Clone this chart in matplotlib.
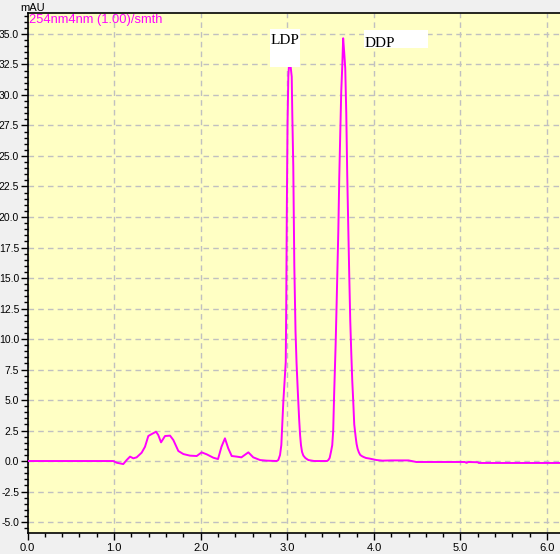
import matplotlib
matplotlib.use("Agg")
import matplotlib.pyplot as plt
from matplotlib.patches import Rectangle
from matplotlib.ticker import MultipleLocator, FormatStrFormatter

# retention time (min) and absorbance (mAU)
time_min = [0.0, 0.99, 1.03, 1.106, 1.145, 1.184, 1.222, 1.26, 1.318, 1.357,
            1.395, 1.434, 1.484, 1.51, 1.542, 1.588, 1.646, 1.684, 1.742, 1.80,
            1.876, 1.954, 2.011, 2.069, 2.146, 2.20, 2.24, 2.28, 2.318, 2.358,
            2.416, 2.47, 2.55, 2.607, 2.685, 2.762, 2.878,
            # LDP
            2.896, 2.916, 2.931, 2.939, 2.954, 2.982, 2.988, 2.995, 3.003, 3.012,
            3.024, 3.039, 3.051, 3.058, 3.069, 3.081, 3.095, 3.107, 3.122, 3.137,
            3.148, 3.158, 3.170, 3.185, 3.208, 3.243, 3.31,
            # DDP
            3.459, 3.474, 3.489, 3.504, 3.519, 3.530, 3.541, 3.558, 3.570, 3.589,
            3.600, 3.612, 3.623, 3.635, 3.645, 3.657, 3.669, 3.681, 3.692, 3.704,
            3.716, 3.727, 3.739, 3.750, 3.762, 3.773, 3.789, 3.800, 3.812, 3.827,
            3.842, 3.862, 3.881, 3.908, 3.95,
            # tail
            4.03, 4.10, 4.20, 4.40, 4.49, 5.05, 5.07, 5.09, 5.20, 5.21, 6.15]
mau = [0.0, 0.0, -0.14, -0.25, 0.08, 0.36, 0.22, 0.30, 0.68, 1.17,
       2.05, 2.21, 2.40, 2.13, 1.53, 2.05, 2.08, 1.72, 0.82, 0.57,
       0.44, 0.41, 0.71, 0.55, 0.27, 0.16, 1.17, 1.86, 1.04, 0.41,
       0.36, 0.30, 0.71, 0.30, 0.08, 0.03, 0.0,
       0.08, 0.49, 1.31, 2.54, 4.84, 8.11, 13.0, 21.0, 27.8, 31.5,
       33.0, 32.3, 31.5, 28.3, 24.2, 16.0, 10.6, 8.0, 5.6, 3.4,
       2.1, 1.3, 0.75, 0.45, 0.25, 0.08, 0.0,
       0.0, 0.08, 0.25, 0.74, 1.3, 2.5, 5.5, 9.5, 13.0, 18.8,
       23.2, 27.0, 30.3, 32.4, 34.65, 33.5, 32.2, 28.5, 23.5, 19.2,
       15.0, 11.5, 8.8, 6.6, 4.8, 3.0, 2.0, 1.4, 1.0, 0.7,
       0.5, 0.4, 0.33, 0.25, 0.2,
       0.08, 0.03, 0.05, 0.05, -0.08, -0.08, -0.15, -0.08, -0.1, -0.16, -0.16]

channel_label = "254nm4nm (1.00)/smth"
peak_names = ["LDP", "DDP"]

fig = plt.figure(figsize=(5.6, 5.54), dpi=100, facecolor="#f0f0f0")
ax = fig.add_axes([27.5 / 560, 1 - 533 / 554, 1 - 27.5 / 560, (533 - 13) / 554])
ax.set_facecolor("#ffffc4")

ax.plot(time_min, mau, color="#ff00ff", lw=1.4, zorder=3)

ax.set_xlim(0, 6.149)
ax.set_ylim(-5.9, 36.72)

ax.xaxis.set_major_locator(MultipleLocator(1.0))
ax.xaxis.set_minor_locator(MultipleLocator(0.2))
ax.yaxis.set_major_locator(MultipleLocator(2.5))
ax.yaxis.set_minor_locator(MultipleLocator(0.5))
ax.xaxis.set_major_formatter(FormatStrFormatter("%.1f"))
ax.yaxis.set_major_formatter(FormatStrFormatter("%.1f"))

ax.tick_params(which="major", direction="out", length=5, width=1)
ax.tick_params(which="minor", direction="out", length=3, width=1)
ax.tick_params(axis="x", which="major", labelsize=8, pad=2)
ax.tick_params(axis="y", which="major", labelsize=7.5, pad=1)
for lab in ax.get_xticklabels() + ax.get_yticklabels():
    lab.set_fontfamily("Liberation Sans")

ax.grid(True, which="major", color="#c0c0c0", ls=(0, (4, 3)), lw=1, zorder=1)

ax.spines["right"].set_visible(False)
for s in ["left", "bottom", "top"]:
    ax.spines[s].set_color("black")
    ax.spines[s].set_linewidth(1.2)

fig.text(20 / 560, 1 - 11 / 554, "mAU", fontsize=8, family="Liberation Sans",
         color="black", va="baseline")
ax.text(0.002, 0.999, channel_label, transform=ax.transAxes, fontsize=9.3,
        family="Liberation Sans", color="#ff00ff", va="top", ha="left", zorder=5)

# white label boxes over the peaks
ax.add_patch(Rectangle((2.80, 32.32), 0.347, 3.09, facecolor="white",
                       edgecolor="none", zorder=4))
ax.add_patch(Rectangle((3.885, 33.83), 0.735, 1.5, facecolor="white",
                       edgecolor="none", zorder=4))
ax.text(2.81, 34.18, peak_names[0], fontsize=11, family="Liberation Serif",
        va="baseline", ha="left", zorder=5)
ax.text(3.89, 33.96, peak_names[1], fontsize=11, family="Liberation Serif",
        va="baseline", ha="left", zorder=5)

fig.savefig("out.png", dpi=100, facecolor=fig.get_facecolor())
